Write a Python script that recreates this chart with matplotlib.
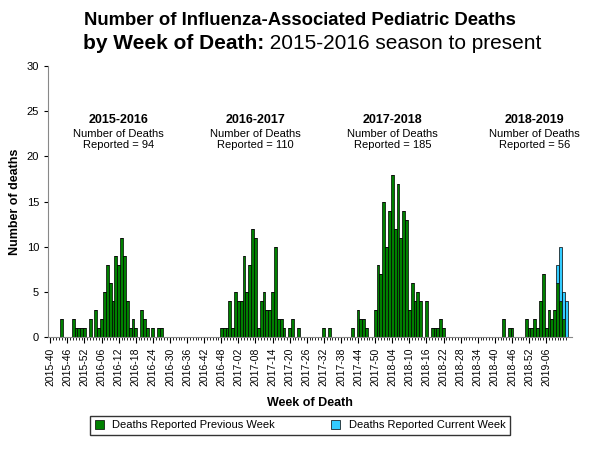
import matplotlib
matplotlib.use("Agg")
import matplotlib.pyplot as plt
import numpy as np

plt.rcParams["font.family"] = "Liberation Sans"

n_weeks = 182
# (week index, deaths) for previous-week reports
prev_idx = [4, 8, 9, 10, 11, 12, 14, 16, 17, 18, 19, 20, 21, 22, 23, 24, 25, 26, 27, 28, 29, 30, 32, 33, 34, 36, 38, 39,
            60, 61, 62, 63, 64, 65, 66, 67, 68, 69, 70, 71, 72, 73, 74, 75, 76, 77, 78, 79, 80, 81, 82, 84, 85, 87, 96, 98,
            106, 108, 109, 110, 111, 114, 115, 116, 117, 118, 119, 120, 121, 122, 123, 124, 125, 126, 127, 128, 129, 130,
            132, 134, 135, 136, 137, 138,
            159, 161, 162, 167, 168, 169, 170, 171, 172, 173, 174, 175, 176, 177, 178, 179, 180]
prev_val = [2, 2, 1, 1, 1, 1, 2, 3, 1, 2, 5, 8, 6, 4, 9, 8, 11, 9, 4, 1, 2, 1, 3, 2, 1, 1, 1, 1,
            1, 1, 1, 4, 1, 5, 4, 4, 9, 5, 8, 12, 11, 1, 4, 5, 3, 3, 5, 10, 2, 2, 1, 1, 2, 1, 1, 1,
            1, 3, 2, 2, 1, 3, 8, 7, 15, 10, 14, 18, 12, 17, 11, 14, 13, 3, 6, 4, 5, 4,
            4, 1, 1, 1, 2, 1,
            2, 1, 1, 2, 1, 1, 2, 1, 4, 7, 1, 3, 2, 3, 6, 4, 2]
# current-week reports (stacked on top)
cur_idx = [178, 179, 180, 181]
cur_val = [2, 6, 3, 4]

tick_labels = ["2015-40", "2015-46", "2015-52", "2016-06", "2016-12", "2016-18", "2016-24", "2016-30",
               "2016-36", "2016-42", "2016-48", "2017-02", "2017-08", "2017-14", "2017-20", "2017-26",
               "2017-32", "2017-38", "2017-44", "2017-50", "2018-04", "2018-10", "2018-16", "2018-22",
               "2018-28", "2018-34", "2018-40", "2018-46", "2018-52", "2019-06"]

seasons = ["2015-2016", "2016-2017", "2017-2018", "2018-2019"]
season_totals = [94, 110, 185, 56]
season_centers = [24, 72, 120, 170]

prev = np.zeros(n_weeks)
prev[prev_idx] = prev_val
cur = np.zeros(n_weeks)
cur[cur_idx] = cur_val
x = np.arange(n_weeks)

fig = plt.figure(figsize=(6, 4.5), dpi=100)
ax = fig.add_axes([0.08, 0.251, 0.873, 0.602])
ax.bar(x, prev, width=1.0, color="#008000", edgecolor="black", linewidth=0.5, label="Deaths Reported Previous Week")
ax.bar(x, cur, width=1.0, bottom=prev, color="#33ccff", edgecolor="black", linewidth=0.5,
       label="Deaths Reported Current Week")

ax.set_xlim(-0.8, 183)
ax.set_ylim(0, 30)
ax.set_yticks(range(0, 31, 5))
ax.tick_params(axis="y", labelsize=8, length=3)
ax.set_xticks(np.arange(len(tick_labels)) * 6)
ax.set_xticklabels(tick_labels, rotation=90, fontsize=7.5)
ax.set_xticks(x, minor=True)
ax.tick_params(axis="x", which="major", length=4)
ax.tick_params(axis="x", which="minor", length=2)
for s in ["top", "right"]:
    ax.spines[s].set_visible(False)
ax.spines["left"].set_color("#888888")
ax.spines["bottom"].set_color("#888888")
ax.set_ylabel("Number of deaths", fontsize=9, fontweight="bold")
ax.set_xlabel("Week of Death", fontsize=9, fontweight="bold", labelpad=8)

for name, tot, c in zip(seasons, season_totals, season_centers):
    ax.text(c, 24.0, name, ha="center", va="center", fontsize=9, fontweight="bold")
    ax.text(c, 21.9, "Number of Deaths\nReported = %d" % tot, ha="center", va="center", fontsize=8,
            linespacing=1.1)

fig.text(0.5, 0.955, "Number of Influenza-Associated Pediatric Deaths", ha="center", va="center",
         fontsize=13.3, fontweight="bold")
fig.text(0.44, 0.903, "by Week of Death:", ha="right", va="center", fontsize=15, fontweight="bold")
fig.text(0.44, 0.903, " 2015-2016 season to present", ha="left", va="center", fontsize=15)

fig.legend(loc="center", bbox_to_anchor=(0.5, 0.055), ncol=2, fontsize=8, frameon=True, edgecolor="black",
           fancybox=False, handlelength=0.8, handleheight=0.8, columnspacing=5)

fig.savefig("out.png", dpi=100)
